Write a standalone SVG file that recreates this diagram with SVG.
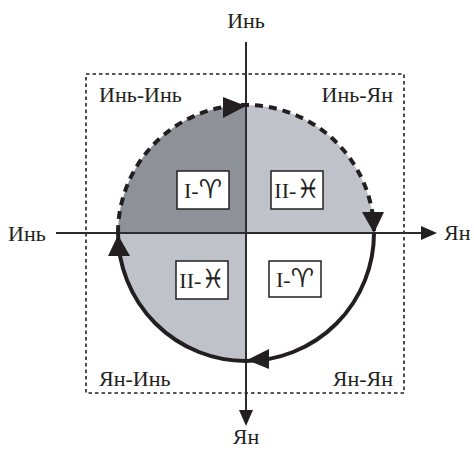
<svg xmlns="http://www.w3.org/2000/svg" width="474" height="453" viewBox="0 0 474 453">
<style>
.t{font-family:"Liberation Serif","DejaVu Serif",serif;font-size:22px;fill:#231f20}
.b{font-family:"Liberation Serif","DejaVu Serif",serif;font-size:22px;fill:#231f20}
.s{font-family:"DejaVu Sans",sans-serif;font-size:26px}
.box{fill:#fff;stroke:#231f20;stroke-width:1.5}
.ax{stroke:#2b2b30;stroke-width:2;fill:none}
.ah{fill:#231f20}
</style>
<defs>
<marker id="axh" markerWidth="16" markerHeight="14" refX="0" refY="7" orient="auto" markerUnits="userSpaceOnUse">
<path d="M0,0 L16,7 L0,14 Z" fill="#231f20"/>
</marker>
</defs>
<g id="quadrants">
<path d="M246,233 L118,233 A128,128 0 0 1 246,105 Z" fill="#8f9199"/>
<path d="M246,233 L246,105 A128,128 0 0 1 374,233 Z" fill="#bfc2c8"/>
<path d="M246,233 L246,361 A128,128 0 0 1 118,233 Z" fill="#bfc2c8"/>
</g>
<rect id="frame" x="86" y="74" width="318" height="319" fill="none" stroke="#231f20" stroke-width="1.6" stroke-dasharray="3.5,3"/>
<g id="connectors">
<line class="ax" x1="246" y1="42" x2="246" y2="410" marker-end="url(#axh)"/>
<line class="ax" x1="56" y1="233" x2="421" y2="233" marker-end="url(#axh)"/>
<path d="M118,233 A128,128 0 0 1 374,233" fill="none" stroke="#231f20" stroke-width="4" stroke-dasharray="8,6"/>
<path d="M374,233 A128,128 0 0 1 118,233" fill="none" stroke="#231f20" stroke-width="4"/>
<path class="ah" d="M246,106 L223,97 L223,118 Z"/>
<path class="ah" d="M374,233 L362,212 L384,212 Z"/>
<path class="ah" d="M247,360 L269,349 L269,369 Z"/>
<path class="ah" d="M118,235 L108,256 L130,256 Z"/>
</g>
<g id="axis-labels">
<text class="t" x="246" y="28" text-anchor="middle">Инь</text>
<text class="t" x="246" y="444" text-anchor="middle">Ян</text>
<text class="t" x="8" y="241">Инь</text>
<text class="t" x="444" y="240">Ян</text>
</g>
<g id="quadrant-labels">
<text class="t" x="99" y="102">Инь-Инь</text>
<text class="t" x="393" y="102" text-anchor="end">Инь-Ян</text>
<text class="t" x="99" y="386">Ян-Инь</text>
<text class="t" x="393" y="386" text-anchor="end">Ян-Ян</text>
</g>
<g id="node-ul">
<rect class="box" x="177" y="171" width="52" height="38"/>
<text class="b" x="203" y="198" text-anchor="middle">I-<tspan class="s">♈</tspan></text>
</g>
<g id="node-ur">
<rect class="box" x="271" y="171" width="52" height="38"/>
<text class="b" x="297" y="198" text-anchor="middle">II-<tspan class="s">♓</tspan></text>
</g>
<g id="node-ll">
<rect class="box" x="176" y="261" width="52" height="38"/>
<text class="b" x="202" y="288" text-anchor="middle">II-<tspan class="s">♓</tspan></text>
</g>
<g id="node-lr">
<rect class="box" x="269" y="261" width="52" height="36"/>
<text class="b" x="295" y="287" text-anchor="middle">I-<tspan class="s">♈</tspan></text>
</g>
</svg>
